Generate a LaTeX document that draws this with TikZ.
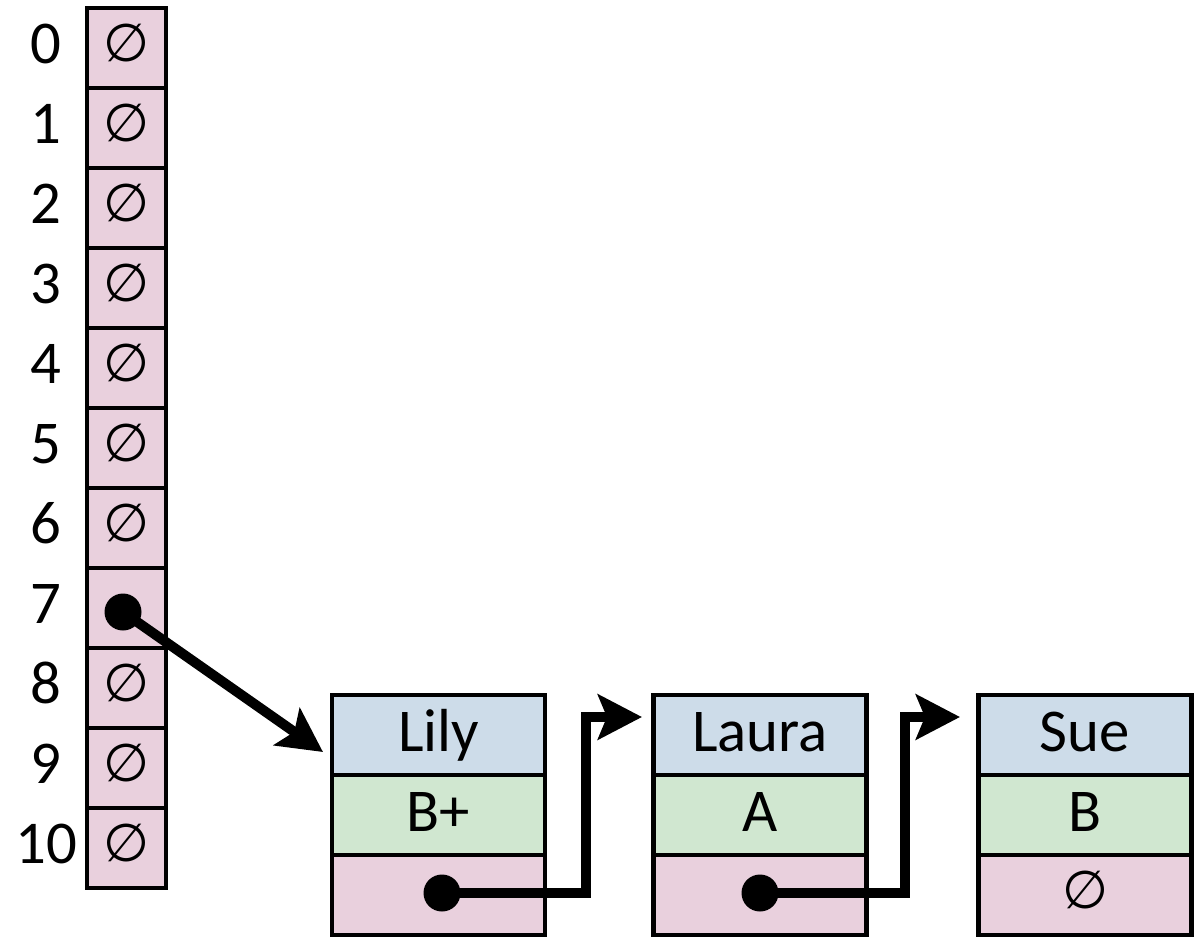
\documentclass[tikz,border=0pt]{standalone}
\usepackage{fontspec}
\setmainfont{Carlito}
\newfontfamily\symfont{DejaVu Sans}
\usetikzlibrary{arrows.meta}
\definecolor{cpink}{RGB}{233,208,221}
\definecolor{cblue}{RGB}{205,220,233}
\definecolor{cgreen}{RGB}{208,231,208}
\newcommand{\nul}{\raisebox{3bp}{\symfont\fontsize{53}{55}\selectfont ∅}}
\begin{document}
\begin{tikzpicture}[x=1bp,y=-1bp,
  box/.style={draw=black, line width=4.5bp, inner sep=0pt, outer sep=0pt,
    font=\fontsize{61}{70}\selectfont, text height=44bp, text depth=12bp},
  cell/.style={box, fill=cpink, minimum width=79bp, minimum height=80bp},
  rowb/.style={box, fill=cblue, minimum width=213bp, minimum height=80bp},
  rowg/.style={box, fill=cgreen, minimum width=213bp, minimum height=80bp},
  rowp/.style={box, fill=cpink, minimum width=213bp, minimum height=80bp},
  idx/.style={anchor=base, inner sep=0pt, font=\fontsize{61}{70}\selectfont},
  dot/.style={circle, fill=black, minimum size=37bp, inner sep=0pt},
  ptr/.style={line width=10bp, line join=miter,
    -{Stealth[length=44bp, width=45bp, inset=9bp]}}]
\useasboundingbox (0,0) rectangle (1199,938);
% array
\foreach \i in {0,...,10}{
  \node[idx] (i\i) at (46, 63+80*\i) {\i};
}
\foreach \i in {0,1,2,3,4,5,6,8,9,10}{
  \node[cell] (c\i) at (126.5, 48+80*\i) {\nul};
}
\node[cell] (c7) at (126.5, 608) {};
% records
\node[rowb] (n1) at (438.5,735) {Lily};
\node[rowg] (g1) at (438.5,815) {B+};
\node[rowp] (p1) at (438.5,895) {};
\node[rowb] (n2) at (760,735) {Laura};
\node[rowg] (g2) at (760,815) {A};
\node[rowp] (p2) at (760,895) {};
\node[rowb] (n3) at (1085,735) {Sue};
\node[rowg] (g3) at (1085,815) {B};
\node[rowp] (p3) at (1085,895) {\nul};
% pointers
\node[dot] (d7) at (123,612) {};
\node[dot] (d1) at (442,893) {};
\node[dot] (d2) at (760,893) {};
\coordinate (t1) at (323,752);
\coordinate (k1) at (585.5,717);
\coordinate (t2) at (642,717);
\coordinate (k2) at (905,717);
\coordinate (t3) at (960,717);
\draw[ptr] (d7.center) -- (t1);
\draw[ptr] (d1.center) -| (k1) -- (t2);
\draw[ptr] (d2.center) -| (k2) -- (t3);
\end{tikzpicture}
\end{document}
